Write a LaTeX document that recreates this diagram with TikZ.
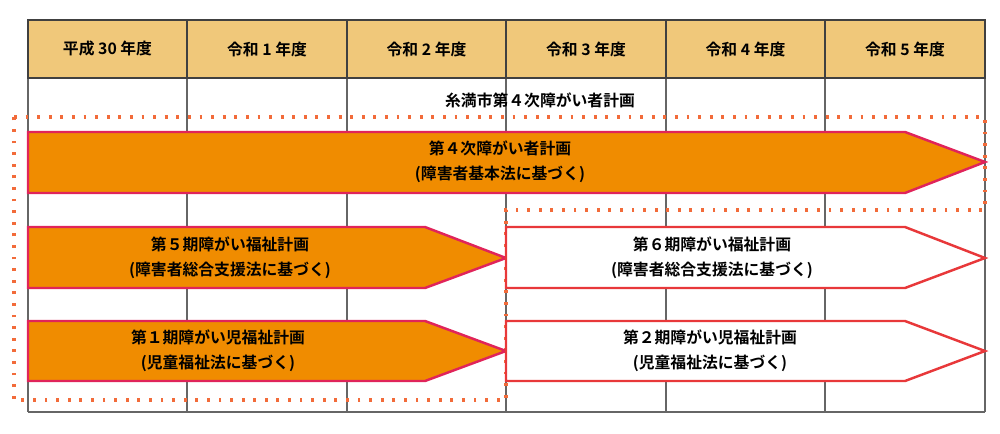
\documentclass[tikz,border=0pt]{standalone}
\usepackage{fontspec}
\setmainfont{Noto Sans CJK JP}[BoldFont={* Bold}]
\begin{document}
\begin{tikzpicture}[x=0.02cm,y=-0.02cm,
  hdr/.style={draw=black!75,fill=hdrfill,line width=0.6pt},
  grid/.style={draw=black!60,line width=0.6pt},
  ticks/.style={draw=tickc,line width=2pt,dash pattern=on 1.6pt off 5pt},
  planA/.style={draw=crim,fill=orfill,line width=1.4pt},
  planB/.style={draw=redb,fill=white,line width=1.4pt},
  lbl/.style={font=\fontsize{9}{14}\selectfont\bfseries,align=center,text=black}]
\definecolor{hdrfill}{HTML}{F0C87A}
\definecolor{orfill}{HTML}{F08C00}
\definecolor{crim}{HTML}{E0245A}
\definecolor{redb}{HTML}{E8383A}
\definecolor{tickc}{HTML}{F26B3A}
\useasboundingbox (0,0) rectangle (1000,433);
% body grid
\foreach \x in {28,187,347,506,666,825,985} \draw[grid] (\x,78) -- (\x,412);
\draw[grid] (28,412) -- (985,412);
% headers
\foreach \a/\b/\t [count=\i] in {28/187/平成 30 年度,187/347/令和 1 年度,347/506/令和 2 年度,506/666/令和 3 年度,666/825/令和 4 年度,825/985/令和 5 年度}{
  \draw[hdr] (\a,20) rectangle (\b,78);
  \node[lbl] (h\i) at ({(\a+\b)/2},49) {\t};
}
\node[lbl] (title) at (540,100) {糸満市第４次障がい者計画};
% scope outline
\draw[ticks] (14,117) -- (985,117) -- (985,210) -- (506,210) -- (506,400) -- (14,400) -- cycle;
% arrows
\draw[planA] (28,132) -- (905,132) -- (985,162) -- (905,193) -- (28,193) -- cycle;
\node[lbl] (p1) at (500,162) {第４次障がい者計画\\(障害者基本法に基づく)};
\draw[planA] (28,227) -- (425,227) -- (506,258) -- (425,288) -- (28,288) -- cycle;
\node[lbl] (p2) at (230,258) {第５期障がい福祉計画\\(障害者総合支援法に基づく)};
\draw[planB] (506,227) -- (905,227) -- (985,258) -- (905,288) -- (506,288) -- cycle;
\node[lbl] (p3) at (712,258) {第６期障がい福祉計画\\(障害者総合支援法に基づく)};
\draw[planA] (28,321) -- (425,321) -- (506,351) -- (425,381) -- (28,381) -- cycle;
\node[lbl] (p4) at (218,351) {第１期障がい児福祉計画\\(児童福祉法に基づく)};
\draw[planB] (506,321) -- (905,321) -- (985,351) -- (905,381) -- (506,381) -- cycle;
\node[lbl] (p5) at (710,351) {第２期障がい児福祉計画\\(児童福祉法に基づく)};
\end{tikzpicture}
\end{document}
